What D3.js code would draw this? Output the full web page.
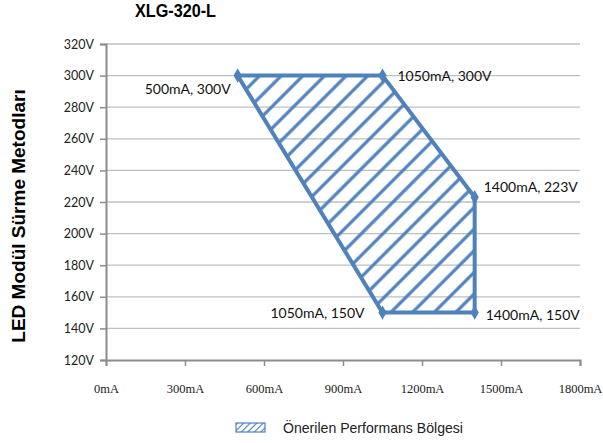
<!DOCTYPE html>
<html><head><meta charset="utf-8">
<script src="https://cdn.jsdelivr.net/npm/d3@7"></script>
<style>body{margin:0;background:#fff}</style>
</head><body>
<svg id="c" width="603" height="443"></svg>
<script>
const title = "XLG-320-L";
const yTitle = "LED Modül Sürme Metodları";
const legendLabel = "Önerilen Performans Bölgesi";
const xTicks = [0, 300, 600, 900, 1200, 1500, 1800];
const yTicks = [120, 140, 160, 180, 200, 220, 240, 260, 280, 300, 320];
const currents = [500, 1050, 1400, 1400, 1050];
const voltages = [300, 300, 223, 150, 150];
const pointLabels = ["500mA, 300V", "1050mA, 300V", "1400mA, 223V", "1400mA, 150V", "1050mA, 150V"];
const labelSide = ["left", "right", "right", "right", "left"];

const blue = "#4F81BD";
const svg = d3.select("#c");
const x = d3.scaleLinear().domain([0, 1800]).range([106, 580]);
const y = d3.scaleLinear().domain([120, 320]).range([360, 44]);

const defs = svg.append("defs");
function hatch(id, sp, w) {
  const p = defs.append("pattern").attr("id", id).attr("patternUnits", "userSpaceOnUse")
    .attr("width", sp).attr("height", sp).attr("patternTransform", "rotate(45)");
  p.append("line").attr("x1", sp/2).attr("x2", sp/2).attr("y1", -1).attr("y2", sp+1)
    .attr("stroke", blue).attr("stroke-width", w);
}
hatch("h", 15.3, 3.2);
hatch("hs", 4.6, 1.2);

// title
svg.append("text").attr("x", 135).attr("y", 16.5)
  .attr("textLength", 81).attr("lengthAdjust", "spacingAndGlyphs")
  .style("font-family", "'Liberation Sans Narrow','Arial Narrow',sans-serif").style("font-weight", "bold")
  .style("font-size", "18px").text(title);

// y title
svg.append("text").attr("transform", "translate(25,216) rotate(-90)").attr("text-anchor", "middle")
  .style("font-family", "'Liberation Sans',Arial,sans-serif").style("font-weight", "bold")
  .style("font-size", "19px").text(yTitle);

// gridlines
svg.append("g").selectAll("line").data(yTicks.filter(d => d > 120)).join("line")
  .attr("x1", x(0)).attr("x2", x(1800)).attr("y1", d => y(d)).attr("y2", d => y(d))
  .attr("stroke", "#bfbfbf").attr("stroke-width", 1.3);

// y axis
const ya = svg.append("g").attr("transform", `translate(${x(0)},0)`)
  .call(d3.axisLeft(y).tickValues(yTicks).tickSize(6).tickPadding(6).tickFormat(d => d + "V"));
ya.select(".domain").attr("stroke", "#8c8c8c").attr("stroke-width", 2);
ya.selectAll(".tick line").attr("stroke", "#8c8c8c").attr("stroke-width", 1.5);
ya.selectAll("text").style("font-family", "Lato,'Open Sans',sans-serif").style("font-size", "12.5px").attr("fill", "#222");

// x axis
const xa = svg.append("g").attr("transform", `translate(0,${y(120)})`)
  .call(d3.axisBottom(x).tickValues(xTicks).tickSize(6).tickPadding(18).tickFormat(d => d + "mA"));
xa.select(".domain").attr("stroke", "#8c8c8c").attr("stroke-width", 2);
xa.selectAll(".tick line").attr("stroke", "#8c8c8c").attr("stroke-width", 1.5);
xa.selectAll("text").style("font-family", "'Liberation Serif','Times New Roman',serif").style("font-size", "12.5px").attr("fill", "#222");

// polygon
const pts = currents.map((c, i) => [x(c), y(voltages[i])]);
svg.append("path").attr("d", d3.line()(pts) + "Z")
  .attr("fill", "url(#h)").attr("stroke", blue).attr("stroke-width", 4).attr("stroke-linejoin", "round");

// markers
svg.append("g").selectAll("path").data(pts).join("path")
  .attr("transform", d => `translate(${d[0]},${d[1]})`)
  .attr("d", d3.symbol(d3.symbolDiamond, 60)).attr("fill", blue);

// labels
const dx = [-7, 15, 9, 11, -18];
const dy = [18, 5, -5, 7, 5];
svg.append("g").selectAll("text").data(pts).join("text")
  .attr("x", (d, i) => d[0] + dx[i])
  .attr("y", (d, i) => d[1] + dy[i])
  .attr("text-anchor", (d, i) => labelSide[i] === "left" ? "end" : "start")
  .style("font-family", "Lato,'Open Sans',sans-serif").style("font-size", "14px").attr("fill", "#111")
  .text((d, i) => pointLabels[i]);

// legend
svg.append("rect").attr("x", 236).attr("y", 423).attr("width", 29).attr("height", 9)
  .attr("fill", "url(#hs)").attr("stroke", blue).attr("stroke-width", 1.2);
svg.append("text").attr("x", 283).attr("y", 433)
  .attr("textLength", 180).attr("lengthAdjust", "spacingAndGlyphs")
  .style("font-family", "'Liberation Sans Narrow','Arial Narrow',sans-serif").style("font-size", "15px").attr("fill", "#222")
  .text(legendLabel);
</script>
</body></html>
